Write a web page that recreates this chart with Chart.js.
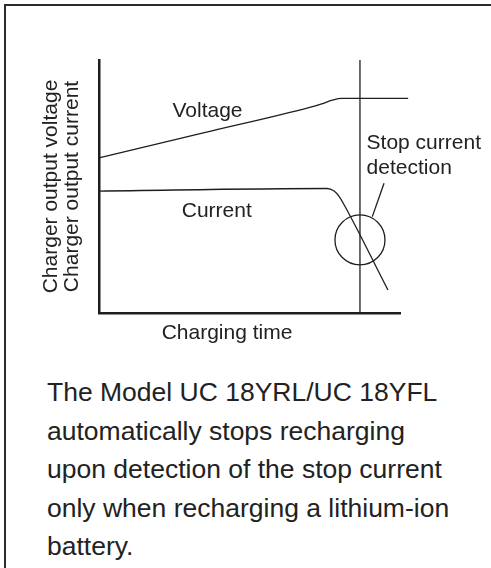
<!DOCTYPE html>
<html>
<head>
<meta charset="utf-8">
<script src="https://cdn.jsdelivr.net/npm/chart.js@4.4.1/dist/chart.umd.min.js"></script>
<style>
  body { margin: 0; background: #fff; width: 491px; height: 568px; overflow: hidden; position: relative; }
  .frame { position: absolute; left: 4px; top: 4px; right: 0; bottom: 0; border-left: 2px solid #2b2b2b; border-top: 2px solid #2b2b2b; }
  #chart { position: absolute; left: 0; top: 0; }
  .note { position: absolute; left: 47px; top: 373px; width: 440px; font-family: "Liberation Sans", Arial, sans-serif; font-size: 26.5px; line-height: 38.5px; color: #222; }
</style>
</head>
<body>
<div class="frame"></div>
<canvas id="chart" width="491" height="360"></canvas>
<div class="note">The Model UC 18YRL/UC 18YFL<br>automatically stops recharging<br>upon detection of the stop current<br>only when recharging a lithium-ion<br>battery.</div>
<script>
// charging time (0-100 = axis length), levels in % of axis height
var voltageTime = [0, 35, 70, 74, 77.5, 80.5, 102.7];
var voltage = [61.3, 71.3, 81.3, 82.7, 84.1, 84.8, 84.8];
var currentTime = [0, 75.7, 78.1, 79.7, 81.1, 96.0];
var current = [48.2, 49.2, 48.2, 46.2, 43.5, 9.1];
var stopTime = 86.7;
var stopMark = [86.7, 28.9];
var leaderTime = [90.8, 94.7];
var leaderLevel = [38.1, 51.3];

var ink = '#1e1e1e';
var font = '"Liberation Sans", Arial, sans-serif';

function pts(xs, ys) {
  return xs.map(function (x, i) { return {x: x, y: ys[i]}; });
}

var labels = {
  id: 'labels',
  afterDatasetsDraw: function (chart) {
    var ctx = chart.ctx, x = chart.scales.x, y = chart.scales.y, a = chart.chartArea;
    ctx.save();
    ctx.fillStyle = '#222';
    ctx.font = '21px ' + font;
    ctx.textBaseline = 'alphabetic';
    ctx.textAlign = 'left';
    ctx.fillText('Voltage', x.getPixelForValue(24.4), y.getPixelForValue(77.6));
    ctx.fillText('Current', x.getPixelForValue(27.5), y.getPixelForValue(38.1));
    ctx.fillText('Stop current', x.getPixelForValue(88.9), y.getPixelForValue(64.8));
    ctx.fillText('detection', x.getPixelForValue(88.9), y.getPixelForValue(54.9));
    ctx.textAlign = 'center';
    ctx.textBaseline = 'middle';
    ctx.fillText('Charging time', a.left + 128, a.bottom + 20);
    ctx.restore();
  }
};

var ctx = document.getElementById('chart').getContext('2d');
var chart = new Chart(ctx, {
  type: 'line',
  data: {
    datasets: [
      { label: 'Voltage', data: pts(voltageTime, voltage), cubicInterpolationMode: 'monotone' },
      { label: 'Current', data: pts(currentTime, current), cubicInterpolationMode: 'monotone' },
      { label: 'Stop', data: pts([stopTime, stopTime], [0, 100]) },
      { label: 'Detection', data: pts([stopMark[0]], [stopMark[1]]), showLine: false,
        pointRadius: 25, pointBorderWidth: 1.3, pointBorderColor: ink, pointBackgroundColor: 'rgba(0,0,0,0)' },
      { label: 'Leader', data: pts(leaderTime, leaderLevel) }
    ]
  },
  options: {
    responsive: false,
    animation: false,
    devicePixelRatio: 1,
    layout: { padding: { left: 30, top: 60, right: 91, bottom: 47 } },
    elements: {
      line: { borderColor: ink, borderWidth: 1.3, fill: false },
      point: { radius: 0, hoverRadius: 0 }
    },
    datasets: { line: { clip: false } },
    plugins: { legend: { display: false }, tooltip: { enabled: false } },
    scales: {
      x: {
        type: 'linear', min: 0, max: 100,
        ticks: { display: false },
        grid: { display: false, drawTicks: false },
        border: { color: ink, width: 2.5 }
      },
      y: {
        min: 0, max: 100,
        ticks: { display: false },
        grid: { display: false, drawTicks: false },
        border: { color: ink, width: 2.5 },
        title: {
          display: true,
          text: ['Charger output voltage', 'Charger output current'],
          color: '#222',
          font: { family: font, size: 21, lineHeight: 1.0 },
          padding: { top: 11, bottom: 16 }
        }
      }
    }
  },
  plugins: [labels]
});
</script>
</body>
</html>
